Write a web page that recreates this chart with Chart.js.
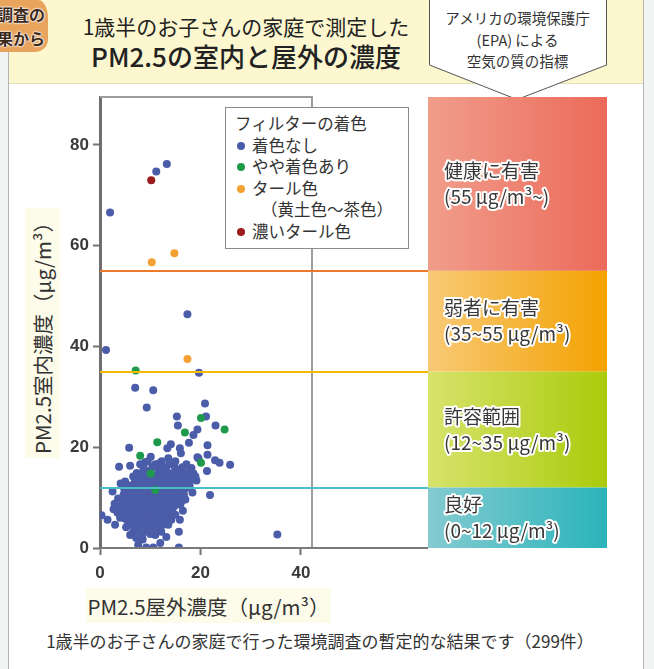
<!DOCTYPE html>
<html lang="ja">
<head>
<meta charset="utf-8">
<script src="https://cdn.jsdelivr.net/npm/chart.js@4.4.1/dist/chart.umd.min.js"></script>
<style>
  body { margin: 0; width: 654px; height: 669px; overflow: hidden; position: relative;
         background: #f2f4f4; font-family: "Noto Sans CJK JP", "Noto Sans", sans-serif; color: #333; }
  #frame { position: absolute; left: 8px; top: 0; width: 634px; height: 669px; background: #fff;
           border-left: 1px solid #b4b4b4; border-right: 1px solid #b4b4b4; }
  #banner { position: absolute; left: 9px; top: 0; width: 634px; height: 83px; background: #fcf7cf;
            border-bottom: 1px solid #e4dfbb; }
  #tag { position: absolute; left: 0; top: 0; width: 48px; height: 52px; background: #e8a35c;
         border-radius: 0 10px 14px 0 / 0 18px 12px 0; overflow: hidden; }
  #tag div { position: absolute; right: 3px; font-weight: bold; font-size: 16px; white-space: nowrap;
             color: #3b2a1c; text-shadow: 0 0 2px #fff, 0 0 2px #fff, 0 0 2px #fff; }
  .t1 { position: absolute; left: 0; width: 492px; text-align: center; white-space: nowrap; color: #222; }
  #arrowText { position: absolute; left: 429px; top: 7px; width: 177px; text-align: center;
               font-size: 14.5px; line-height: 21.5px; color: #333; }
  .axTitle { position: absolute; background: #fdfbe9; font-size: 20.5px; color: #333; white-space: nowrap;
             display: flex; align-items: center; justify-content: center; }
  #footer { position: absolute; left: 0; top: 628px; width: 640px; text-align: center; font-size: 17px; color: #333; }
  #c { position: absolute; left: 0; top: 0; }
  #legend { position: absolute; left: 225px; top: 107px; width: 184px; height: 142px; background: #fff;
            border: 1px solid #8c8c8c; box-sizing: border-box; font-size: 16.5px; line-height: 21.5px; padding: 5px 0 0 9px; }
  #legend .it { position: relative; padding-left: 17px; white-space: nowrap; }
  #legend .dot { position: absolute; left: 2px; top: 7px; width: 8px; height: 8px; border-radius: 50%; }
</style>
</head>
<body>
<div id="frame"></div>
<div id="banner"></div>
<div id="tag"><div style="top:2px">調査の</div><div style="top:26px">結果から</div></div>
<div class="t1" style="top:11px;font-size:21px;">1歳半のお子さんの家庭で測定した</div>
<div class="t1" style="top:37px;font-size:26px;font-weight:500;">PM2.5の室内と屋外の濃度</div>
<svg style="position:absolute;left:0;top:0" width="654" height="102">
  <polygon points="429.5,-2 606.5,-2 606.5,65 517,99.5 429.5,65" fill="#fff" stroke="#555" stroke-width="1"/>
</svg>
<div id="arrowText">アメリカの環境保護庁<br>(EPA) による<br>空気の質の指標</div>
<div class="axTitle" style="left:25px;top:208px;width:35px;height:250px;">
  <span style="transform:rotate(-90deg);display:inline-block;">PM2.5室内濃度（μg/m³）</span>
</div>
<div class="axTitle" style="left:86px;top:588px;width:245px;height:35px;">PM2.5屋外濃度（μg/m³）</div>
<div id="footer">1歳半のお子さんの家庭で行った環境調査の暫定的な結果です（299件）</div>
<canvas id="c" width="654" height="669"></canvas>
<div id="legend"></div>

<script>
// --- data ---
const seriesNames = ["着色なし", "やや着色あり", "タール色", "濃いタール色"];
const legendTitle = "フィルターの着色";
const tarNote = "（黄土色〜茶色）";
const seriesColors = ["#4b5ca9", "#1f9a4c", "#f3a132", "#9b1b1f"];

const xTicks = [0, 20, 40];
const yTicks = [0, 20, 40, 60, 80];
const xMax = 42.2;
const yMax = 89.5;

// EPA thresholds (µg/m³) and band texts
const bandEdges = [yMax, 55, 35, 12, 0];
const bandNames = ["健康に有害", "弱者に有害", "許容範囲", "良好"];
const bandRanges = ["(55 μg/m³~)", "(35~55 μg/m³)", "(12~35 μg/m³)", "(0~12 μg/m³)"];

// 着色なし
const noTint = [
  [13.3,76.2],[11.2,74.7],[2.0,66.6],[17.4,46.4],[1.2,39.3],[19.7,34.8],[7.0,31.8],[10.6,31.3],
  [9.3,27.9],[20.9,28.7],[15.3,26.1],[21.1,26.1],[15.5,24.3],[23.0,24.3],[19.4,23.5],[18.6,22.4],
  [17.7,20.9],[21.4,20.4],[5.8,19.9],[14.1,20.6],[13.4,19.8],[16.1,18.8],[10.1,18.1],[19.4,18.0],
  [21.4,18.5],[22.9,17.4],[23.8,16.9],[25.9,16.5],[3.8,16.1],[6.0,16.3],[21.3,15.3],[15.9,19.8],[19.6,17.8],
  [35.3,2.7],[21.9,10.5],[0.3,6.5],[2.5,11.2],[1.5,5.6],[3.0,4.6],[5.2,4.1],[6.6,3.2],[8.5,1.7],
  [11.0,2.6],[15.7,3.2],[15.7,0.1],[9.2,0.1],[10.6,0.1],[16.5,7.4],[15.9,5.6],[17.8,12.4],[2.7,7.7],
  [4.1,12.8],[7.3,14.9],[12.8,6.1],[13.6,4.6],
  [5.0,13.2],[6.6,14.2],[18.2,15.9],[19.2,13.4],[18.4,11.0],[17.0,9.6],[16.0,8.6],[15.0,6.6],[14.2,5.6],
  [3.6,9.8],[2.9,8.8],[4.0,6.0],[6.0,2.6],[7.2,2.0],[12.2,3.2],[13.2,2.2],[11.8,16.8],[13.6,17.8],
  [9.0,17.0],[16.8,14.4],[8.0,16.6],[12.0,1.0],[7.6,0.6],
  [9.5,17.2],[12.3,17.2],[15.0,17.2],
  [11.0,16.6],[13.8,16.6],[17.2,16.6],
  [8.6,16.0],[10.4,16.0],[12.6,16.0],[14.9,16.0],[16.4,16.0],
  [9.1,15.4],[11.7,15.4],[13.2,15.4],[15.6,15.4],[17.9,15.4],
  [8.2,14.8],[9.9,14.8],[12.2,14.8],[14.1,14.8],[16.8,14.8],[18.6,14.8],
  [9.4,14.2],[10.9,14.2],[12.8,14.2],[13.9,14.2],[15.3,14.2],[17.4,14.2],[19.0,14.2],
  [7.6,13.6],[8.9,13.6],[10.3,13.6],[11.6,13.6],[13.1,13.6],[14.6,13.6],[16.1,13.6],[18.1,13.6],
  [6.9,13.0],[9.6,13.0],[11.1,13.0],[12.4,13.0],[14.0,13.0],[15.5,13.0],[16.9,13.0],
  [5.9,12.4],[7.8,12.4],[9.0,12.4],[10.6,12.4],[12.0,12.4],[13.4,12.4],[14.9,12.4],[16.3,12.4],[17.8,12.4],
  [4.8,11.8],[6.7,11.8],[8.3,11.8],[9.7,11.8],[11.3,11.8],[12.7,11.8],[14.2,11.8],[15.6,11.8],[17.0,11.8],
  [5.6,11.2],[7.2,11.2],[8.8,11.2],[10.2,11.2],[11.8,11.2],[13.3,11.2],[14.7,11.2],[16.1,11.2],
  [4.7,10.6],[6.2,10.6],[7.7,10.6],[9.3,10.6],[10.9,10.6],[12.3,10.6],[13.8,10.6],[15.2,10.6],[16.7,10.6],
  [5.3,10.0],[6.9,10.0],[8.4,10.0],[9.9,10.0],[11.4,10.0],[12.9,10.0],[14.4,10.0],[15.8,10.0],
  [4.4,9.4],[6.0,9.4],[7.5,9.4],[9.0,9.4],[10.5,9.4],[12.0,9.4],[13.5,9.4],[14.9,9.4],[16.3,9.4],
  [5.1,8.8],[6.7,8.8],[8.2,8.8],[9.6,8.8],[11.1,8.8],[12.6,8.8],[14.0,8.8],[15.4,8.8],
  [3.9,8.2],[5.8,8.2],[7.3,8.2],[8.8,8.2],[10.3,8.2],[11.8,8.2],[13.2,8.2],[14.7,8.2],
  [4.6,7.6],[6.4,7.6],[7.9,7.6],[9.4,7.6],[10.9,7.6],[12.4,7.6],[13.8,7.6],
  [3.5,7.0],[5.3,7.0],[7.0,7.0],[8.6,7.0],[10.1,7.0],[11.6,7.0],[13.0,7.0],[14.4,7.0],
  [4.3,6.4],[6.0,6.4],[7.6,6.4],[9.2,6.4],[10.7,6.4],[12.2,6.4],[13.6,6.4],
  [5.0,5.8],[6.7,5.8],[8.3,5.8],[9.8,5.8],[11.3,5.8],[12.8,5.8],
  [5.6,5.2],[7.3,5.2],[8.9,5.2],[10.5,5.2],[12.0,5.2],
  [6.2,4.6],[7.9,4.6],[9.5,4.6],[11.1,4.6],[12.6,4.6],
  [7.0,4.0],[8.6,4.0],[10.2,4.0],[11.8,4.0],
  [7.7,3.4],[9.4,3.4],[11.0,3.4],
  [8.5,2.8],[10.0,2.8],
  [10.5,14.5],[12.5,14.5],[14.5,14.5],[16.0,14.5],
  [8.3,13.3],[10.0,13.3],[11.9,13.3],[13.7,13.3],[15.2,13.3],
  [7.0,12.1],[8.7,12.1],[10.4,12.1],[12.3,12.1],[14.0,12.1],[15.6,12.1],
  [5.8,10.9],[7.5,10.9],[9.1,10.9],[10.7,10.9],[12.6,10.9],[14.2,10.9],
  [5.1,9.7],[6.9,9.7],[8.6,9.7],[10.2,9.7],[11.9,9.7],[13.5,9.7],
  [4.5,8.5],[6.2,8.5],[7.9,8.5],[9.5,8.5],[11.2,8.5],[12.8,8.5],
  [5.2,7.3],[6.9,7.3],[8.6,7.3],[10.4,7.3],[12.0,7.3],
  [5.4,6.1],[7.2,6.1],[8.9,6.1],[10.6,6.1],[12.0,6.1],
  [6.8,4.9],[8.5,4.9],[10.2,4.9],[11.6,4.9],
  [8.2,3.7],[9.9,3.7]
];
// やや着色あり
const slightTint = [[7.1,35.2],[20.1,25.8],[24.8,23.5],[16.9,22.9],[11.4,21.0],[8.0,18.3],[20.1,16.9],[10.1,14.8],[11.0,11.5]];
// タール色
const tarTint = [[10.3,56.7],[14.8,58.5],[17.4,37.5]];
// 濃いタール色
const darkTar = [[10.2,73.0]];

const allSeries = [noTint, slightTint, tarTint, darkTar];

// --- legend (html box inside the plot) ---
const lg = document.getElementById("legend");
lg.innerHTML = "<div>" + legendTitle + "</div>" + seriesNames.map((n, i) =>
  '<div class="it"><span class="dot" style="background:' + seriesColors[i] + '"></span>' + n + "</div>" +
  (i === 2 ? '<div class="it" style="padding-left:26px">' + tarNote + "</div>" : "")
).join("");

// --- EPA bands, threshold lines and plot frame ---
const bandLeft = 428, bandRight = 607;
const bandGrad = [["#f19d8b", "#eb6a5a"], ["#f8c976", "#f3a200"], ["#d7e36c", "#aacb0b"], ["#84cbd1", "#2ab4ba"]];
const lineColors = ["#ec7a2d", "#f4b900", "#49bec5", "#7a7a7a"];

const epaPlugin = {
  id: "epa",
  beforeDatasetsDraw(chart) {
    const { ctx, chartArea: a, scales: { y } } = chart;
    ctx.save();
    for (let i = 0; i < bandNames.length; i++) {
      const top = y.getPixelForValue(bandEdges[i]);
      const bot = y.getPixelForValue(bandEdges[i + 1]);
      const g = ctx.createLinearGradient(bandLeft, 0, bandRight, 0);
      g.addColorStop(0, bandGrad[i][0]);
      g.addColorStop(1, bandGrad[i][1]);
      ctx.fillStyle = g;
      ctx.fillRect(bandLeft, top, bandRight - bandLeft, bot - top);
    }
    // top + right frame of the plot
    ctx.strokeStyle = "#9c9c9c";
    ctx.lineWidth = 2;
    ctx.beginPath();
    ctx.moveTo(a.left, a.top);
    ctx.lineTo(a.right, a.top);
    ctx.lineTo(a.right, a.bottom);
    ctx.stroke();
    ctx.restore();
  },
  afterDatasetsDraw(chart) {
    const { ctx, chartArea: a, scales: { y } } = chart;
    ctx.save();
    for (let i = 1; i < bandEdges.length; i++) {
      const py = Math.round(y.getPixelForValue(bandEdges[i]));
      ctx.strokeStyle = lineColors[i - 1];
      ctx.lineWidth = 2;
      ctx.beginPath();
      ctx.moveTo(a.left, py);
      ctx.lineTo(bandLeft, py);
      ctx.stroke();
    }
    ctx.font = '19px "Noto Sans CJK JP", "Noto Sans", sans-serif';
    ctx.textBaseline = "middle";
    ctx.lineJoin = "round";
    for (let i = 0; i < bandNames.length; i++) {
      const mid = (y.getPixelForValue(bandEdges[i]) + y.getPixelForValue(bandEdges[i + 1])) / 2;
      [[bandNames[i], mid - 13], [bandRanges[i], mid + 13]].forEach(([t, ty]) => {
        ctx.strokeStyle = "#fff";
        ctx.lineWidth = 4;
        ctx.strokeText(t, 444, ty);
        ctx.fillStyle = "#383838";
        ctx.fillText(t, 444, ty);
      });
    }
    ctx.restore();
  }
};

const tickFont = { family: '"Liberation Sans", Arial, sans-serif', size: 17, weight: "bold" };

new Chart(document.getElementById("c"), {
  type: "scatter",
  data: {
    datasets: allSeries.map((s, i) => ({
      label: seriesNames[i],
      data: s.map(([x, y]) => ({ x, y })),
      backgroundColor: seriesColors[i],
      borderWidth: 0,
      pointRadius: 4,
      pointHoverRadius: 4,
      order: 4 - i
    }))
  },
  options: {
    responsive: false,
    animation: false,
    layout: { padding: { left: 0, top: 97, right: 342, bottom: 91 } },
    plugins: { legend: { display: false }, tooltip: { enabled: false } },
    scales: {
      x: {
        type: "linear", min: 0, max: xMax,
        afterBuildTicks: s => { s.ticks = xTicks.map(v => ({ value: v })); },
        afterFit: s => { s.height = 30; },
        grid: { drawOnChartArea: false, drawTicks: true, tickLength: 7, tickWidth: 2, tickColor: "#737373" },
        border: { color: "#777", width: 2 },
        ticks: { color: "#3a3a3a", font: tickFont, padding: 8, maxRotation: 0 }
      },
      y: {
        type: "linear", min: 0, max: yMax,
        afterBuildTicks: s => { s.ticks = yTicks.map(v => ({ value: v })); },
        afterFit: s => { s.width = 100; },
        grid: { drawOnChartArea: false, drawTicks: true, tickLength: 7, tickWidth: 2, tickColor: "#737373" },
        border: { color: "#6e6e6e", width: 3 },
        ticks: { color: "#3a3a3a", font: tickFont, padding: 4 }
      }
    }
  },
  plugins: [epaPlugin]
});
</script>
</body>
</html>
